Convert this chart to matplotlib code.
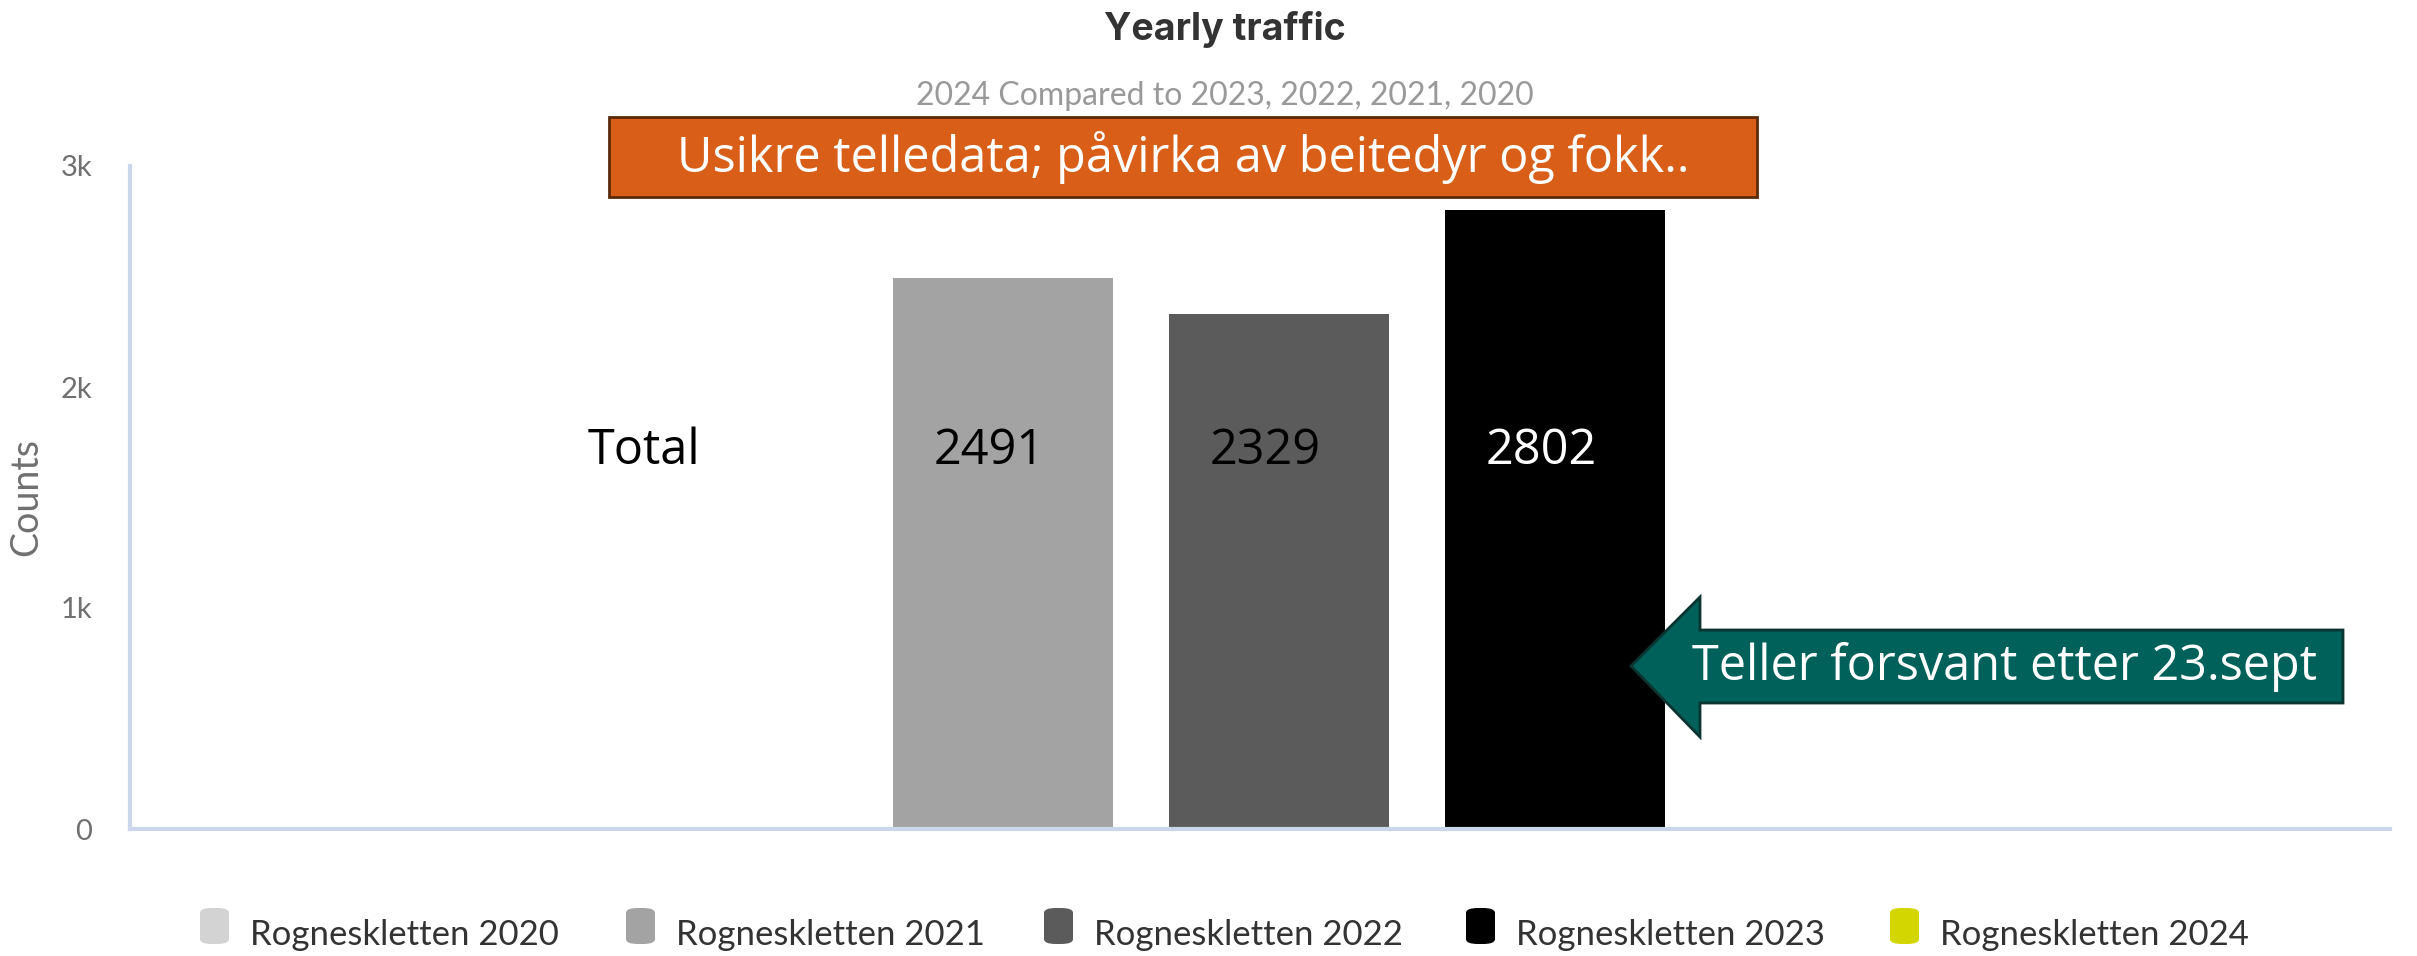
import matplotlib.pyplot as plt
from matplotlib.patches import Rectangle, Polygon, FancyBboxPatch

# ── Data ──
series = ["Rogneskletten 2020", "Rogneskletten 2021", "Rogneskletten 2022",
          "Rogneskletten 2023", "Rogneskletten 2024"]
values = [0, 2491, 2329, 2802, 0]
colors = ["#d3d3d3", "#a3a3a3", "#5b5b5b", "#000000", "#d4d600"]
label_colors = ["black", "black", "black", "white", "black"]
category = "Total"
y_ticks = [0, 1000, 2000, 3000]
y_tick_labels = ["0", "1k", "2k", "3k"]

W, H = 2417, 956
fig = plt.figure(figsize=(W / 100, H / 100), dpi=100)

def fx(px):
    return px / W

def fy(py):
    return 1 - py / H

# axes: left 130, right 2390, top 166, bottom 829 (pixels)
ax = fig.add_axes([fx(130), fy(829), fx(2390) - fx(130), fy(166) - fy(829)])

pitch = 276.0
x0 = 727.0
xs = list(range(len(values)))
ax.bar(xs, values, width=0.8, color=colors, zorder=2)
ax.set_xlim((130 - x0) / pitch, (2390 - x0) / pitch)
ax.set_ylim(0, 3000)

for x, v, c in zip(xs, values, label_colors):
    if v > 0:
        ax.text(x - 0.05, 1710, str(v), ha="center", va="center", fontsize=35,
                color=c, family="Open Sans", zorder=3)
ax.text((644 - x0) / pitch, 1710, category, ha="center", va="center",
        fontsize=35, color="black", family="Open Sans", zorder=3)

ax.set_yticks(y_ticks)
ax.set_yticklabels(y_tick_labels, family="Lato", fontsize=21, color="#707070")
ax.tick_params(axis="y", length=0, pad=27)
ax.set_xticks([])
for s in ["top", "right"]:
    ax.spines[s].set_visible(False)
for s in ["left", "bottom"]:
    ax.spines[s].set_color("#ccd6eb")
    ax.spines[s].set_linewidth(3)
ax.set_ylabel("Counts", family="Lato", fontsize=27, color="#707070",
              labelpad=12)

# title
fig.text(fx(1225), fy(30), "Yearly traffic", ha="center", va="center",
         fontsize=27, fontweight="bold", family="Inter", color="#333333")
fig.text(fx(1225), fy(96), "2024 Compared to 2023, 2022, 2021, 2020",
         ha="center", va="center", fontsize=23, family="Lato", color="#999999")

# orange note box
fig.patches.append(Rectangle((fx(609), fy(197)), fx(1757) - fx(609),
                             fy(117) - fy(197), transform=fig.transFigure,
                             facecolor="#d95f18", edgecolor="#5a2a0a",
                             linewidth=2, zorder=5))
fig.text(fx(1183), fy(157), "Usikre telledata; påvirka av beitedyr og fokk..",
         ha="center", va="center", fontsize=35, color="white",
         family="Open Sans", zorder=6)

# teal arrow
arrow_px = [(1631, 666), (1700, 597), (1700, 630), (2343, 630),
            (2343, 703), (1700, 703), (1700, 737)]
fig.patches.append(Polygon([(fx(a), fy(b)) for a, b in arrow_px], closed=True,
                           transform=fig.transFigure, facecolor="#00605a",
                           edgecolor="#0b3330", linewidth=2, zorder=5))
fig.text(fx(2005), fy(667), "Teller forsvant etter 23.sept", ha="center",
         va="center", fontsize=35, color="white", family="Open Sans", zorder=6)

# legend
leg_x = [200, 626, 1044, 1466, 1890]
for lx, name, c in zip(leg_x, series, colors):
    fig.patches.append(FancyBboxPatch((fx(lx), fy(944)), fx(29), fy(0) - fy(36),
                                      boxstyle="round,pad=0,rounding_size=0.005",
                                      transform=fig.transFigure, facecolor=c,
                                      edgecolor="none"))
    fig.text(fx(lx + 50), fy(935), name, ha="left", va="center", fontsize=25,
             family="Lato", color="#333333")

fig.savefig("out.png", dpi=100)
